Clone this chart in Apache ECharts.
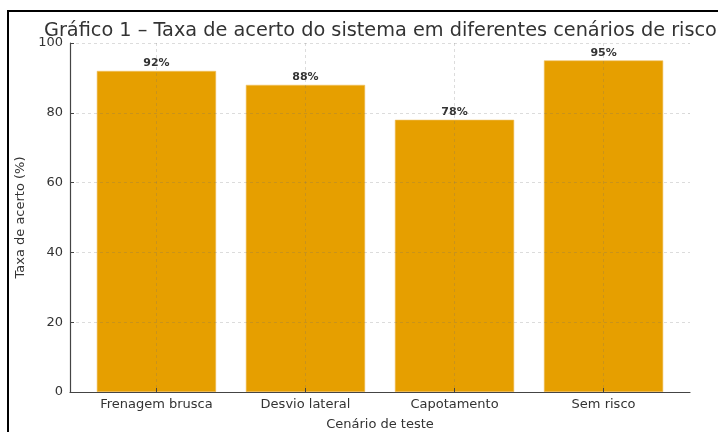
<!DOCTYPE html>
<html>
<head>
<meta charset="utf-8">
<script src="https://cdn.jsdelivr.net/npm/echarts@6/dist/echarts.min.js"></script>
<style>
  html, body { margin: 0; padding: 0; background: #fff; }
  #frame { position: absolute; left: 7px; top: 10px; right: -10px; bottom: -10px; border: 2px solid #000; }
  #chart { width: 718px; height: 432px; position: absolute; left: 0; top: 0; }
</style>
</head>
<body>
<div id="frame"></div>
<div id="chart"></div>
<script>
// dados do gráfico
const cenarios = ["Frenagem brusca", "Desvio lateral", "Capotamento", "Sem risco"];
const taxaAcerto = [92, 88, 78, 95];
const yTicks = [0, 20, 40, 60, 80, 100];

const chart = echarts.init(document.getElementById("chart"));
const font = "DejaVu Sans";
const xMin = -0.58, xMax = 3.58;
const plotW = 620;
// barras com 0.8 da largura de cada categoria
const barW = 0.8 * plotW / (xMax - xMin);
const gridLine = { show: true, lineStyle: { color: "rgba(110,110,110,0.3)", type: [3, 3], width: 0.8 } };

chart.setOption({
  animation: false,
  textStyle: { fontFamily: font },
  title: {
    text: "Gráfico 1 – Taxa de acerto do sistema em diferentes cenários de risco",
    left: 39,
    top: 16,
    textStyle: { fontFamily: font, fontSize: 19.3, fontWeight: "normal", color: "#333" },
  },
  grid: { left: 70, right: 28, top: 43, bottom: 40, outerBoundsMode: "none", containLabel: false },
  xAxis: {
    type: "value",
    min: xMin,
    max: xMax,
    z: 5,
    name: "Cenário de teste",
    nameLocation: "middle",
    nameGap: 26,
    nameTextStyle: { fontFamily: font, fontSize: 13, color: "#333" },
    axisLine: { show: true, onZero: false, lineStyle: { color: "#444", width: 1.2 } },
    axisTick: { show: true, inside: true, length: 4, customValues: cenarios.map((c, i) => i), lineStyle: { color: "#444" } },
    axisLabel: {
      customValues: cenarios.map((c, i) => i),
      formatter: (v) => cenarios[Math.round(v)] || "",
      fontFamily: font, fontSize: 13, color: "#333", margin: 6,
    },
    splitLine: gridLine,
  },
  yAxis: {
    type: "value",
    min: 0,
    max: 100,
    interval: 20,
    z: 5,
    name: "Taxa de acerto (%)",
    nameLocation: "middle",
    nameGap: 41,
    nameTextStyle: { fontFamily: font, fontSize: 13, color: "#333" },
    axisLine: { show: true, onZero: false, lineStyle: { color: "#444", width: 1.2 } },
    axisTick: { show: true, inside: true, length: 4, lineStyle: { color: "#444" } },
    axisLabel: {
      formatter: (v) => (yTicks.indexOf(v) >= 0 ? String(v) : ""),
      fontFamily: font, fontSize: 13, color: "#333", margin: 7,
    },
    splitLine: gridLine,
  },
  series: [
    {
      type: "bar",
      data: taxaAcerto.map((v, i) => [i, v]),
      barWidth: barW,
      z: 1,
      itemStyle: { color: "#E69F00", borderColor: "#F0C060", borderWidth: 0.6 },
      label: {
        show: true,
        position: "top",
        distance: 2,
        formatter: (p) => p.value[1] + "%",
        fontFamily: font, fontSize: 11, fontWeight: "bold", color: "#333",
      },
    },
  ],
});
</script>
</body>
</html>
